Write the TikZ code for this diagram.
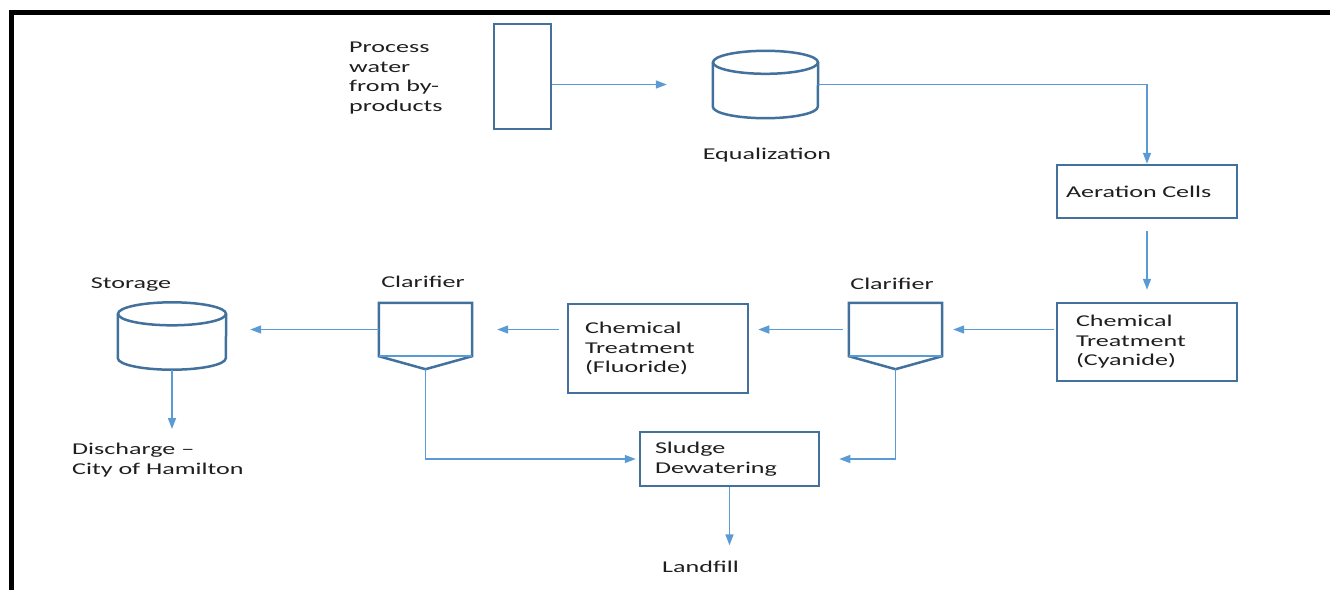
\documentclass[tikz,border=0pt]{standalone}
\usepackage{fontspec}
\setmainfont{Carlito}[FakeStretch=1.58]
\usetikzlibrary{arrows.meta,calc}

\definecolor{unitblue}{HTML}{41719C}
\definecolor{flowblue}{HTML}{5B9BD5}
\definecolor{labelgray}{HTML}{1F1F1F}

\begin{document}
\begin{tikzpicture}[x=1pt, y=-1pt,
    every node/.style={font=\fontsize{16.5}{19.5}\selectfont, text=labelgray},
    unitbox/.style={draw=unitblue, line width=2.5pt, fill=white, align=left, inner ysep=0pt},
    vessel/.style={minimum width=93pt, minimum height=53pt, inner sep=0pt},
    tank/.style={inner sep=0pt, minimum width=#1, minimum height=67pt},
    tankline/.style={draw=unitblue, line width=2.5pt, line join=miter},
    lbl/.style={inner sep=0pt},
    flow/.style={draw=flowblue, line width=1.5pt, -{Triangle[length=11pt, width=8pt]}},
    frame/.style={line width=5pt}
  ]
  \useasboundingbox (0,0) rectangle (1330,590);
  \draw[frame] (11.5,590) -- (11.5,12.5) -- (1330,12.5);

  % top row
  \node[draw=unitblue, line width=2.5pt, minimum width=57pt, minimum height=105pt, inner sep=0pt] (src) at (522.5,76.5) {};
  \node[lbl, align=left, anchor=north west] (srctext) at (349,42) {Process\\water\\from by-\\products};
  \node[tank=105pt] (eq) at (765.5,84.5) {};
  \node[lbl, anchor=base] (eqtext) at (767,159) {Equalization};
  \node[unitbox, inner xsep=9pt, text width=162pt, minimum height=53pt] (aer) at (1147,191.5) {Aeration Cells};

  % treatment row
  \node[unitbox, inner xsep=19pt, text width=142pt, minimum height=78pt] (cyan) at (1147,342) {Chemical\\Treatment\\(Cyanide)};
  \node[vessel] (clr) at (895.5,329.5) {};
  \node[unitbox, inner xsep=17pt, text width=146pt, minimum height=89pt] (fluo) at (658,348.5) {Chemical\\Treatment\\(Fluoride)};
  \node[vessel] (cll) at (425.5,329.5) {};
  \node[tank=108pt] (sto) at (172,336) {};
  \node[unitbox, inner xsep=15pt, text width=149pt, minimum height=54pt] (sl) at (729.5,459) {Sludge\\Dewatering};

  \node[lbl, anchor=base] (clrtext) at (892,289) {Clarifier};
  \node[lbl, anchor=base] (clltext) at (423,287) {Clarifier};
  \node[lbl, anchor=base] (stotext) at (131,288) {Storage};
  \node[lbl, align=left, anchor=north west] (distext) at (72,443) {Discharge –\\City of Hamilton};
  \node[lbl, anchor=base] (filltext) at (700.5,572) {Landfill};

  % clarifiers: box with cone, light rim at the bottom
  \foreach \c in {clr, cll} {
    \coordinate (\c\space tip) at ($(\c.south)+(0,13)$);
    \draw[tankline] (\c.south east) -- (\c.north east) -- (\c.north west) -- (\c.south west)
      -- (\c\space tip) -- cycle;
    \draw[flowblue, line width=1.5pt] (\c.south west) -- (\c.south east);
  }

  % tanks
  \foreach \t/\r in {eq/52.5, sto/54} {
    \draw[tankline] ($(\t.north)+(0,11.5)$) ellipse [x radius=\r, y radius=11.5];
    \draw[tankline] ($(\t.north west)+(0,11.5)$) -- ($(\t.south west)+(0,-11.5)$)
      arc [start angle=180, end angle=0, x radius=\r, y radius=11.5] -- ($(\t.north east)+(0,11.5)$);
  }

  % flows
  \draw[flow, shorten >=46pt] (src.east |- eq.west) -- (eq.west);
  \draw[flow] (eq.east) -| (aer.north);
  \draw[flow, shorten <=12pt, shorten >=12pt] (aer.south) -- (cyan.north);
  \draw[flow, shorten <=2pt, shorten >=11pt] (cyan.west |- clr.east) -- (clr.east);
  \draw[flow, shorten <=6pt, shorten >=9pt] (clr.west) -- (clr.west -| fluo.east);
  \draw[flow, shorten <=8pt, shorten >=25pt] (fluo.west |- cll.east) -- (cll.east);
  \draw[flow, shorten >=24pt] (cll.west) -- (cll.west -| sto.east);
  \draw[flow, shorten >=14pt] (sto.south) -- (sto.south |- distext.north);
  \draw[flow, shorten >=3pt] (cll tip) |- (sl.west);
  \draw[flow, shorten >=19pt] (clr tip) |- (sl.east);
  \draw[flow, shorten >=15pt] (sl.south) -- (sl.south |- filltext.north);
\end{tikzpicture}
\end{document}
